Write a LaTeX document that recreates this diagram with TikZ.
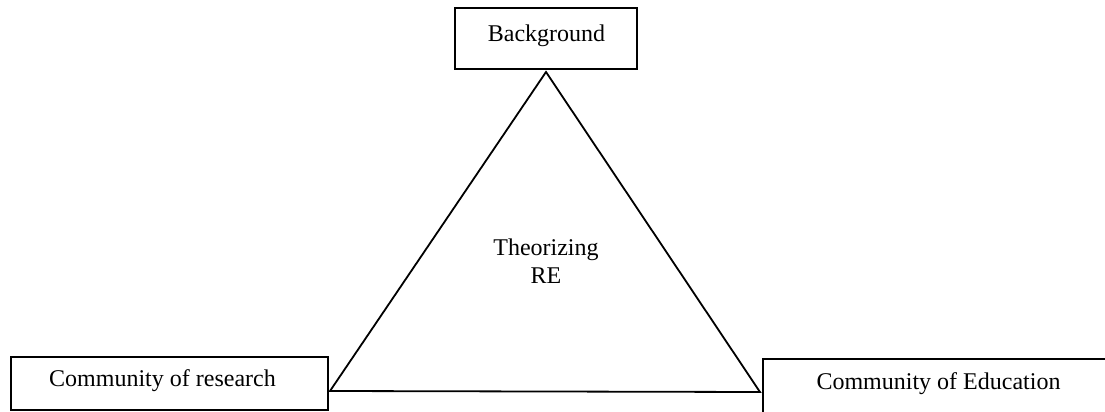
\documentclass[tikz,border=0pt]{standalone}
\usepackage{fontspec}
\setmainfont{Liberation Serif}
\begin{document}
\begin{tikzpicture}[x=0.5pt,y=-0.5pt,
  box/.style={draw,line width=1pt,inner sep=0pt},
  lbl/.style={font=\fontsize{12}{14}\selectfont,anchor=base,inner sep=0pt},
  tri/.style={line width=0.9pt,line join=miter}]
\useasboundingbox (0,0) rectangle (1105,412);
\clip (0,0) rectangle (1105,412);
\node[box,minimum width=91pt,minimum height=30.5pt] (bg) at (546,38.5) {};
\node[box,minimum width=158.5pt,minimum height=26.5pt] (res) at (169.5,383.5) {};
\node[box,minimum width=178.5pt,minimum height=30.5pt] (edu) at (941.5,389.5) {};
\node[lbl] (bgt) at (546.5,41) {Background};
\node[lbl] (rest) at (162.5,386) {Community of research};
\node[lbl] (edut) at (938.5,389) {Community of Education};
\node[lbl] (th) at (546,255) {Theorizing};
\node[lbl] (re) at (546,283) {RE};
\coordinate (apex) at (546,72);
\coordinate (left) at (330,391);
\coordinate (right) at (760,392);
\draw[tri] (apex) -- (left) -- (right) -- cycle;
\end{tikzpicture}
\end{document}
